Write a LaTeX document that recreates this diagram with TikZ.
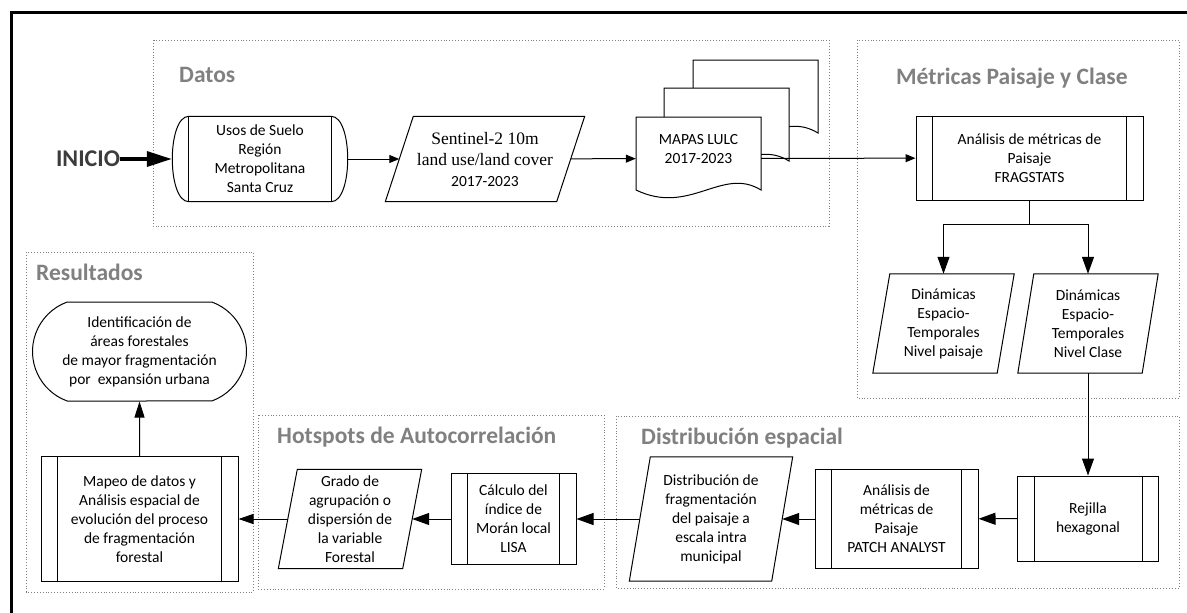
\documentclass[tikz,border=0pt]{standalone}
\usepackage{fontspec}
\setmainfont{Carlito}
\newfontfamily\serifo{Liberation Serif}
\usetikzlibrary{calc}
\usetikzlibrary{arrows.meta}
\usetikzlibrary{shapes.misc}

\definecolor{gristitulo}{RGB}{128,128,128}
\definecolor{grisinicio}{RGB}{60,60,60}

\begin{document}
\begin{tikzpicture}[x=1pt,y=-1pt,
  caja/.style={draw, line width=1pt, inner sep=0pt, align=center, font=\fontsize{15.5}{19}\selectfont},
  hueco/.style={inner sep=0pt, align=center, font=\fontsize{15.5}{19}\selectfont},
  grupo/.style={draw=gray, dotted, line width=0.9pt},
  titulo/.style={anchor=west, inner sep=0pt, text=gristitulo, font=\fontsize{23.5}{26}\selectfont\bfseries},
  flecha/.style={-{Triangle[length=10pt,width=8pt]}, line width=1pt},
  flechag/.style={-{Triangle[length=17pt,width=12pt]}, line width=1pt}]

\useasboundingbox (0,0) rectangle (1187,613);

% marco y grupos
\draw[line width=3pt] (11,640) -- (11,12.5) -- (1200,12.5);
\draw[grupo] (153,40) rectangle (829,226);
\draw[grupo] (857,40) rectangle (1179,398);
\draw[grupo] (26,252) rectangle (253,592);
\draw[grupo] (258,415) rectangle (604,589);
\draw[grupo] (616,416) rectangle (1179,588);

\node[titulo] (tdatos) at (179,75) {Datos};
\node[titulo] (tmetricas) at (896,78) {Métricas Paisaje y Clase};
\node[titulo] (tresultados) at (36,272) {Resultados};
\node[titulo] (thotspots) at (277,437) {Hotspots de Autocorrelación};
\node[titulo] (tdistrib) at (641,438) {Distribución espacial};

% pila de mapas
\foreach \dx/\dy in {57/57, 28/29, 0/0}
\draw[line width=1pt, fill=white, shift={(\dx,-\dy)}] (636,117) -- (761,117) -- (761,190)
  .. controls (722,166) and (690,216) .. (636,190) -- cycle;

% nodos
\node[hueco, text=grisinicio, font=\fontsize{24}{26}\selectfont\bfseries] (inicio) at (88,159) {INICIO};
\node[hueco, minimum width=176, minimum height=85] (usos) at (260,159) {Usos de Suelo\\Región\\Metropolitana\\Santa Cruz};
\node[hueco, minimum width=171, minimum height=85, font=\serifo\fontsize{17.5}{21}\selectfont] (sen) at (485,159)
  {Sentinel-2 10m\\land use/land cover\\{\rmfamily\fontsize{15.5}{19}\selectfont 2017-2023}};
\node[hueco, minimum width=125, minimum height=83] (mapas) at (698.5,158.5) {MAPAS LULC\\2017-2023\\\phantom{X}};
\node[caja, minimum width=227, minimum height=84] (frag) at (1029.5,158) {Análisis de métricas de\\Paisaje\\FRAGSTATS};
\node[hueco, minimum width=124, minimum height=99] (dinp) at (943.5,323.5) {Dinámicas\\Espacio-\\Temporales\\Nivel paisaje};
\node[hueco, minimum width=124, minimum height=99] (dinc) at (1088,323.5) {Dinámicas\\Espacio-\\Temporales\\Nivel Clase};
\node[caja, minimum width=141, minimum height=85] (rej) at (1088,518.5) {Rejilla\\hexagonal};
\node[caja, minimum width=163, minimum height=99] (patch) at (896.5,519) {Análisis de\\métricas de\\Paisaje\\PATCH ANALYST};
\node[hueco, minimum width=142, minimum height=124] (dist) at (711,519) {Distribución de\\fragmentación\\del paisaje a\\escala intra\\municipal};
\node[caja, minimum width=125, minimum height=91] (moran) at (513.5,519) {Cálculo del\\índice de\\Morán local\\LISA};
\node[hueco, minimum width=124, minimum height=99] (grado) at (350,519) {Grado de\\agrupación o\\dispersión de\\la variable\\Forestal};
\node[caja, minimum width=197, minimum height=125] (mapeo) at (139.5,519) {Mapeo de datos y\\Análisis espacial de\\evolución del proceso\\de fragmentación\\forestal};
\node[caja, rounded rectangle, rounded rectangle arc length=140, minimum width=214, minimum height=99] (ident) at (139.5,351.5)
  {Identificación de\\áreas forestales\\de mayor fragmentación\\por\ \ expansión urbana};

% formas
\draw[line width=1pt] ([xshift=17]usos.north west) -- ([xshift=-17]usos.north east)
  .. controls ([xshift=5]usos.north east) and ([xshift=5]usos.south east) .. ([xshift=-17]usos.south east)
  -- ([xshift=17]usos.south west)
  .. controls ([xshift=-5]usos.south west) and ([xshift=-5]usos.north west) .. cycle;
\draw[line width=1pt] ([xshift=17]usos.north west) -- ([xshift=17]usos.south west)
  ([xshift=-17]usos.north east) -- ([xshift=-17]usos.south east);

\foreach \n/\s in {sen/14, dinp/8.5, dinc/8, dist/10.5, grado/9.5}
\draw[line width=1pt] ([xshift=\s]\n.north west) -- ([xshift=\s]\n.north east)
  -- ([xshift=-\s]\n.south east) -- ([xshift=-\s]\n.south west) -- cycle;

\foreach \n in {frag, rej, patch, moran, mapeo}
\draw[line width=1pt] ([xshift=17]\n.north west) -- ([xshift=17]\n.south west)
  ([xshift=-17]\n.north east) -- ([xshift=-17]\n.south east);

% conexiones
\draw[line width=3.5pt, -{Triangle[length=25pt,width=15pt]}] (inicio) -- (usos);
\draw[flecha] (usos) -- (sen);
\draw[flecha] (sen) -- (mapas);
\draw[flecha] (mapas) -- (frag);
\draw[flechag] (frag.south) -- ++(0,24) -| (dinp.north);
\draw[flechag] (frag.south) -- ++(0,24) -| (dinc.north);
\draw[flechag] (dinc.south) -- (rej.north);
\draw[flechag] (rej) -- (patch);
\draw[flechag] (patch) -- (dist);
\draw[flechag] (dist) -- (moran);
\draw[flechag] (moran) -- (grado);
\draw[-{Triangle[length=15pt,width=10pt]}, line width=1pt] (grado) -- (mapeo);
\draw[-{Triangle[length=16pt,width=10pt]}, line width=1pt] (mapeo) -- (ident);

\end{tikzpicture}
\end{document}
